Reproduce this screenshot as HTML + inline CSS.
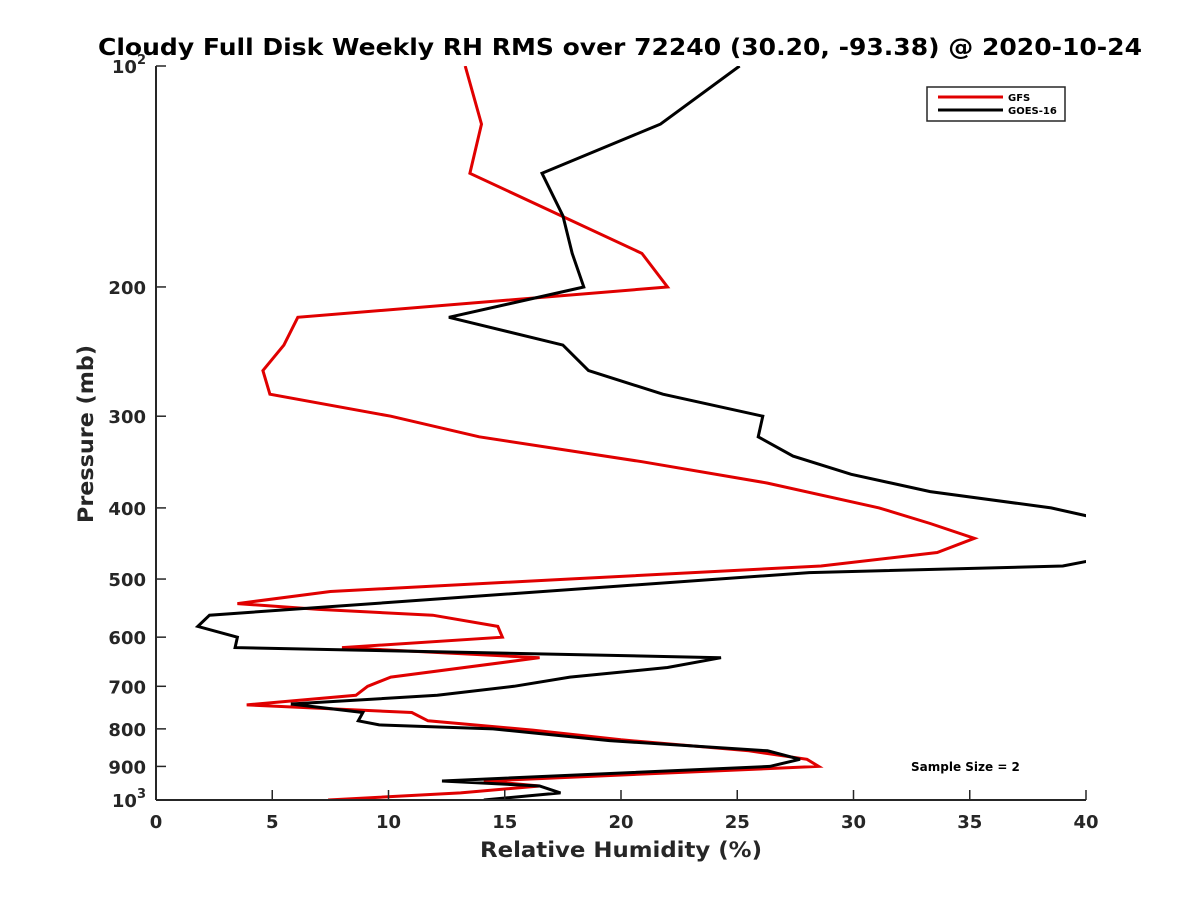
<!DOCTYPE html>
<html><head><meta charset="utf-8"><style>
html,body{margin:0;padding:0;background:#fff;}
svg{display:block;font-family:"DejaVu Sans","Liberation Sans",sans-serif;font-weight:bold;}
</style></head><body>
<svg id="chart" width="1200" height="900" viewBox="0 0 1200 900">
<rect width="1200" height="900" fill="#fff"/>
<text x="620" y="55" text-anchor="middle" font-size="23" textLength="1044" lengthAdjust="spacingAndGlyphs" fill="#000">Cloudy Full Disk Weekly RH RMS over 72240 (30.20, -93.38) @ 2020-10-24</text>
<defs><clipPath id="plotclip"><rect x="156" y="66" width="930" height="734"/></clipPath></defs>
<g id="series" clip-path="url(#plotclip)"></g>
<g id="axes"></g>
<text x="621" y="857" text-anchor="middle" font-size="21" textLength="282" lengthAdjust="spacingAndGlyphs" fill="#262626">Relative Humidity (%)</text>
<text transform="translate(93,434) rotate(-90)" text-anchor="middle" font-size="21" textLength="178" lengthAdjust="spacingAndGlyphs" fill="#262626">Pressure (mb)</text>
<g>
<rect x="927" y="87" width="138" height="34" fill="#fff" stroke="#262626" stroke-width="1.5"/>
<line x1="938" y1="97" x2="1003" y2="97" stroke="#e00000" stroke-width="3"/>
<text x="1008" y="101" font-size="10" fill="#000">GFS</text>
<line x1="938" y1="110" x2="1003" y2="110" stroke="#000" stroke-width="3"/>
<text x="1008" y="114" font-size="10" fill="#000">GOES-16</text>
</g>
<text x="911" y="771" font-size="12" fill="#000">Sample Size = 2</text>
</svg>
<script>
const gfsP = [100,120,140,180,200,220,240,260,280,300,320,346,370,400,420,440,460,480,500,520,540,550,560,580,600,620,640,680,690,700,720,742,760,780,803,828,857,880,900,942,957,978,1000];
const gfsRH = [13.3,14.0,13.5,20.9,22.0,6.1,5.5,4.6,4.9,10.1,13.9,20.9,26.3,31.1,33.3,35.2,33.6,28.6,17.8,7.5,3.5,7.0,11.9,14.7,14.9,8.0,16.5,10.1,9.6,9.1,8.6,3.9,11.0,11.7,16.2,20.0,25.5,28.0,28.5,14.1,16.5,13.1,7.4];
const goesP = [100,120,140,160,180,200,220,240,260,280,300,320,340,360,380,400,420,460,480,490,560,580,600,620,640,660,680,700,720,740,760,780,790,800,830,857,880,900,942,957,978,1000];
const goesRH = [25.1,21.7,16.6,17.5,17.9,18.4,12.6,17.5,18.6,21.8,26.1,25.9,27.4,29.9,33.3,38.5,41.5,42.0,39.0,28.1,2.3,1.8,3.5,3.4,24.3,22.0,17.8,15.4,12.1,5.8,8.9,8.7,9.6,14.5,19.5,26.3,27.7,26.4,12.3,16.5,17.4,14.1];
const xTicks = [0,5,10,15,20,25,30,35,40];
const yTicks = [100,200,300,400,500,600,700,800,900,1000];
const yTickLabels = ["10^2","200","300","400","500","600","700","800","900","10^3"];

const X0=156,X1=1086,Y0=66,Y1=800;
function xs(v){return X0+(v-0)/40*(X1-X0);}
function ys(p){return Y0+(Math.log10(p)-2)*(Y1-Y0);}
const NS="http://www.w3.org/2000/svg";
const series=document.getElementById('series');
function drawLine(P,R,color,name){
  const pl=document.createElementNS(NS,'polyline');
  pl.setAttribute('points',P.map((p,i)=>xs(R[i]).toFixed(1)+','+ys(p).toFixed(1)).join(' '));
  pl.setAttribute('fill','none');pl.setAttribute('stroke',color);pl.setAttribute('stroke-width','3');
  pl.setAttribute('stroke-linejoin','miter');
  
  
  series.appendChild(pl);
}
drawLine(gfsP,gfsRH,'#e00000','gfs-line');
drawLine(goesP,goesRH,'#000','goes16-line');

const axes=document.getElementById('axes');
function mk(tag,attrs){const e=document.createElementNS(NS,tag);for(const k in attrs)e.setAttribute(k,attrs[k]);axes.appendChild(e);return e;}
const xa=mk('line',{x1:X0,y1:Y1,x2:X1,y2:Y1,stroke:'#262626','stroke-width':2});


const ya=mk('line',{x1:X0,y1:Y0,x2:X0,y2:Y1,stroke:'#262626','stroke-width':2});


xTicks.forEach(v=>{
  const t=mk('line',{x1:xs(v),y1:Y1,x2:xs(v),y2:Y1-10,stroke:'#262626','stroke-width':1.5});
  
  
  const l=mk('text',{x:xs(v),y:Y1+28,'text-anchor':'middle','font-size':18,fill:'#262626'});
  l.textContent=String(v);
  
  
});
yTicks.forEach((p,i)=>{
  const t=mk('line',{x1:X0,y1:ys(p),x2:X0+10,y2:ys(p),stroke:'#262626','stroke-width':1.5});
  
  
  const lab=yTickLabels[i];
  const l=mk('text',{x:X0-10,y:ys(p)+7,'text-anchor':'end','font-size':18,fill:'#262626'});
  if(lab.indexOf('^')>=0){
    const parts=lab.split('^');
    const a=document.createElementNS(NS,'tspan');a.textContent=parts[0];l.appendChild(a);
    const b=document.createElementNS(NS,'tspan');b.textContent=parts[1];b.setAttribute('dy','-9');b.setAttribute('font-size','13');l.appendChild(b);
  } else l.textContent=lab;
  
  
});
</script>
</body></html>
